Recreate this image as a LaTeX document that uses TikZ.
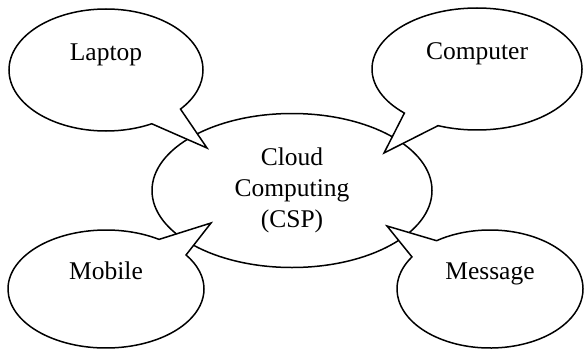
\documentclass[tikz,border=0pt]{standalone}
\usepackage{fontspec}
\setmainfont{Liberation Serif}
\usetikzlibrary{positioning,calc,shapes.geometric,shapes.callouts}
\tikzset{
  figfont/.style={font=\fontsize{25.5}{31}\selectfont},
  hubnode/.style={draw, ellipse, line width=1.5pt, align=center, figfont,
    inner sep=0pt, minimum width=280pt, minimum height=154pt, fill=white},
  bubble/.style={draw, ellipse callout, line width=1.5pt, figfont, fill=white,
    inner sep=0pt, text height=17.5pt, text depth=37.5pt,
    callout pointer arc=22, minimum height=120pt},
}

\begin{document}
\begin{tikzpicture}[x=1pt, y=1pt]
  \useasboundingbox (0,0) rectangle (585,349);
  \node[hubnode] (cloud) at (292,158.5) {Cloud\\Computing\\(CSP)};
  \node[bubble, minimum width=194pt, minimum height=122pt,
    callout absolute pointer={([shift={(-85,42.5)}]cloud.center)}] (laptop) at (106,279) {Laptop};
  \node[bubble, minimum width=210pt, minimum height=122pt,
    callout absolute pointer={([shift={(92,37.5)}]cloud.center)}] (computer) at (477,280) {Computer};
  \node[bubble, minimum width=196pt, minimum height=118pt,
    callout absolute pointer={([shift={(-81,-32.5)}]cloud.center)}] (mobile) at (106,60) {Mobile};
  \node[bubble, minimum width=186pt, minimum height=118pt,
    callout absolute pointer={([shift={(95,-35.5)}]cloud.center)}] (message) at (490,60) {Message};
\end{tikzpicture}
\end{document}
